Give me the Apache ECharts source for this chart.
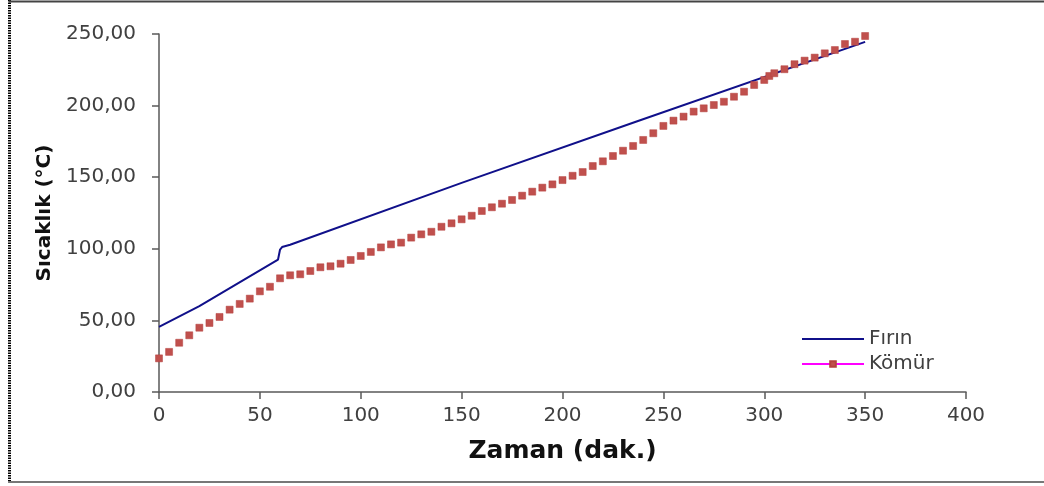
<!DOCTYPE html>
<html>
<head>
<meta charset="utf-8">
<script src="https://cdn.jsdelivr.net/npm/echarts@6/dist/echarts.min.js"></script>
<style>
html,body{margin:0;padding:0;background:#fff;}
#c{width:1044px;height:486px;}
</style>
</head>
<body>
<div id="c"></div>
<script>
// ---- data ----
const seriesNames = ['Fırın', 'Kömür'];
const firinTime = [0, 20, 59, 60, 61, 65, 150, 236, 350];
const firinTemp = [45.5, 60, 92.5, 99.5, 101.2, 102.8, 146, 188.5, 244.5];
const komurTime = [0,5,10,15,20,25,30,35,40,45,50,55,60,65,70,75,80,85,90,95,100,105,110,115,120,125,130,135,140,145,150,155,160,165,170,175,180,185,190,195,200,205,210,215,220,225,230,235,240,245,250,255,260,265,270,275,280,285,290,295,300,302.5,305,310,315,320,325,330,335,340,345,350];
const komurTemp = [23.5,28,34.4,39.6,44.9,48.2,52.4,57.5,61.5,65.2,70.3,73.5,79.4,81.5,82.2,84.5,87.1,87.8,89.6,92.2,95,97.8,101,103.1,104.3,107.8,110.1,111.9,115.4,117.8,120.6,123.1,126.4,129,131.5,134.1,137.1,139.9,142.7,145,148,151,153.6,157.8,161.1,164.8,168.5,171.8,176,180.7,185.8,189.5,192.3,195.8,198.1,200.4,202.7,206.2,209.7,214.4,217.9,220.7,222.6,225.4,228.9,231.4,233.5,236.5,238.8,243,244.6,248.6];
const xAxisTitle = 'Zaman (dak.)';
const yAxisTitle = 'Sıcaklık (°C)';

const firinData = firinTime.map((t, i) => [t, firinTemp[i]]);
const komurData = komurTime.map((t, i) => [t, komurTemp[i]]);

const chart = echarts.init(document.getElementById('c'), null, {renderer: 'canvas'});
const axisColor = '#595959';
const labelFont = {fontFamily: 'DejaVu Sans', fontSize: 20, color: '#404040'};
chart.setOption({
  backgroundColor: '#ffffff',
  animation: false,
  grid: {left: 159, right: 78, top: 34, bottom: 94},
  xAxis: {
    type: 'value', min: 0, max: 400, interval: 50,
    name: xAxisTitle, nameLocation: 'middle', nameGap: 47,
    nameTextStyle: {fontFamily: 'DejaVu Sans', fontWeight: 'bold', fontSize: 25, color: '#111'},
    axisLine: {show: true, lineStyle: {color: axisColor, width: 1.5}},
    axisTick: {show: true, length: 7, lineStyle: {color: axisColor, width: 1.5}},
    axisLabel: Object.assign({margin: 14}, labelFont),
    splitLine: {show: false}
  },
  yAxis: {
    type: 'value', min: 0, max: 250, interval: 50,
    name: yAxisTitle, nameLocation: 'middle', nameGap: 104, nameRotate: 90,
    nameTextStyle: {fontFamily: 'DejaVu Sans', fontWeight: 'bold', fontSize: 20, color: '#111'},
    axisLine: {show: true, lineStyle: {color: axisColor, width: 1.5}},
    axisTick: {show: true, length: 7, lineStyle: {color: axisColor, width: 1.5}},
    axisLabel: Object.assign({margin: 23, formatter: v => v.toFixed(2).replace('.', ',')}, labelFont),
    splitLine: {show: false}
  },
  legend: {
    orient: 'vertical', left: 801, top: 329, padding: 0, itemWidth: 62, itemHeight: 7, itemGap: 5,
    textStyle: {fontFamily: 'DejaVu Sans', fontSize: 20, color: '#404040'},
    data: [
      {name: seriesNames[0], itemStyle: {opacity: 0}, lineStyle: {color: '#10108a', width: 2, opacity: 1}},
      {name: seriesNames[1], lineStyle: {color: '#ff00ff', width: 2, opacity: 1}}
    ]
  },
  graphic: [
    {type: 'line', shape: {x1: 9.5, y1: 0, x2: 9.5, y2: 483}, style: {stroke: '#000', lineWidth: 3, lineDash: [1.5, 1]}, z: 10},
    {type: 'line', shape: {x1: 9, y1: 1.5, x2: 1044, y2: 1.5}, style: {stroke: '#444', lineWidth: 2}, z: 10},
    {type: 'line', shape: {x1: 9, y1: 482, x2: 1044, y2: 482}, style: {stroke: '#777', lineWidth: 2}, z: 10}
  ],
  series: [
    {
      name: seriesNames[0], type: 'line', data: firinData, symbol: 'none',
      lineStyle: {color: '#10108a', width: 2}, itemStyle: {color: '#10108a'}, z: 3
    },
    {
      name: seriesNames[1], type: 'line', data: komurData, symbol: 'rect', symbolSize: 7,
      showAllSymbol: true,
      lineStyle: {color: '#ff00ff', width: 2, opacity: 0},
      itemStyle: {color: '#c0504d', borderColor: '#b4413e', borderWidth: 0.5}, z: 4
    }
  ]
});
</script>
</body>
</html>
